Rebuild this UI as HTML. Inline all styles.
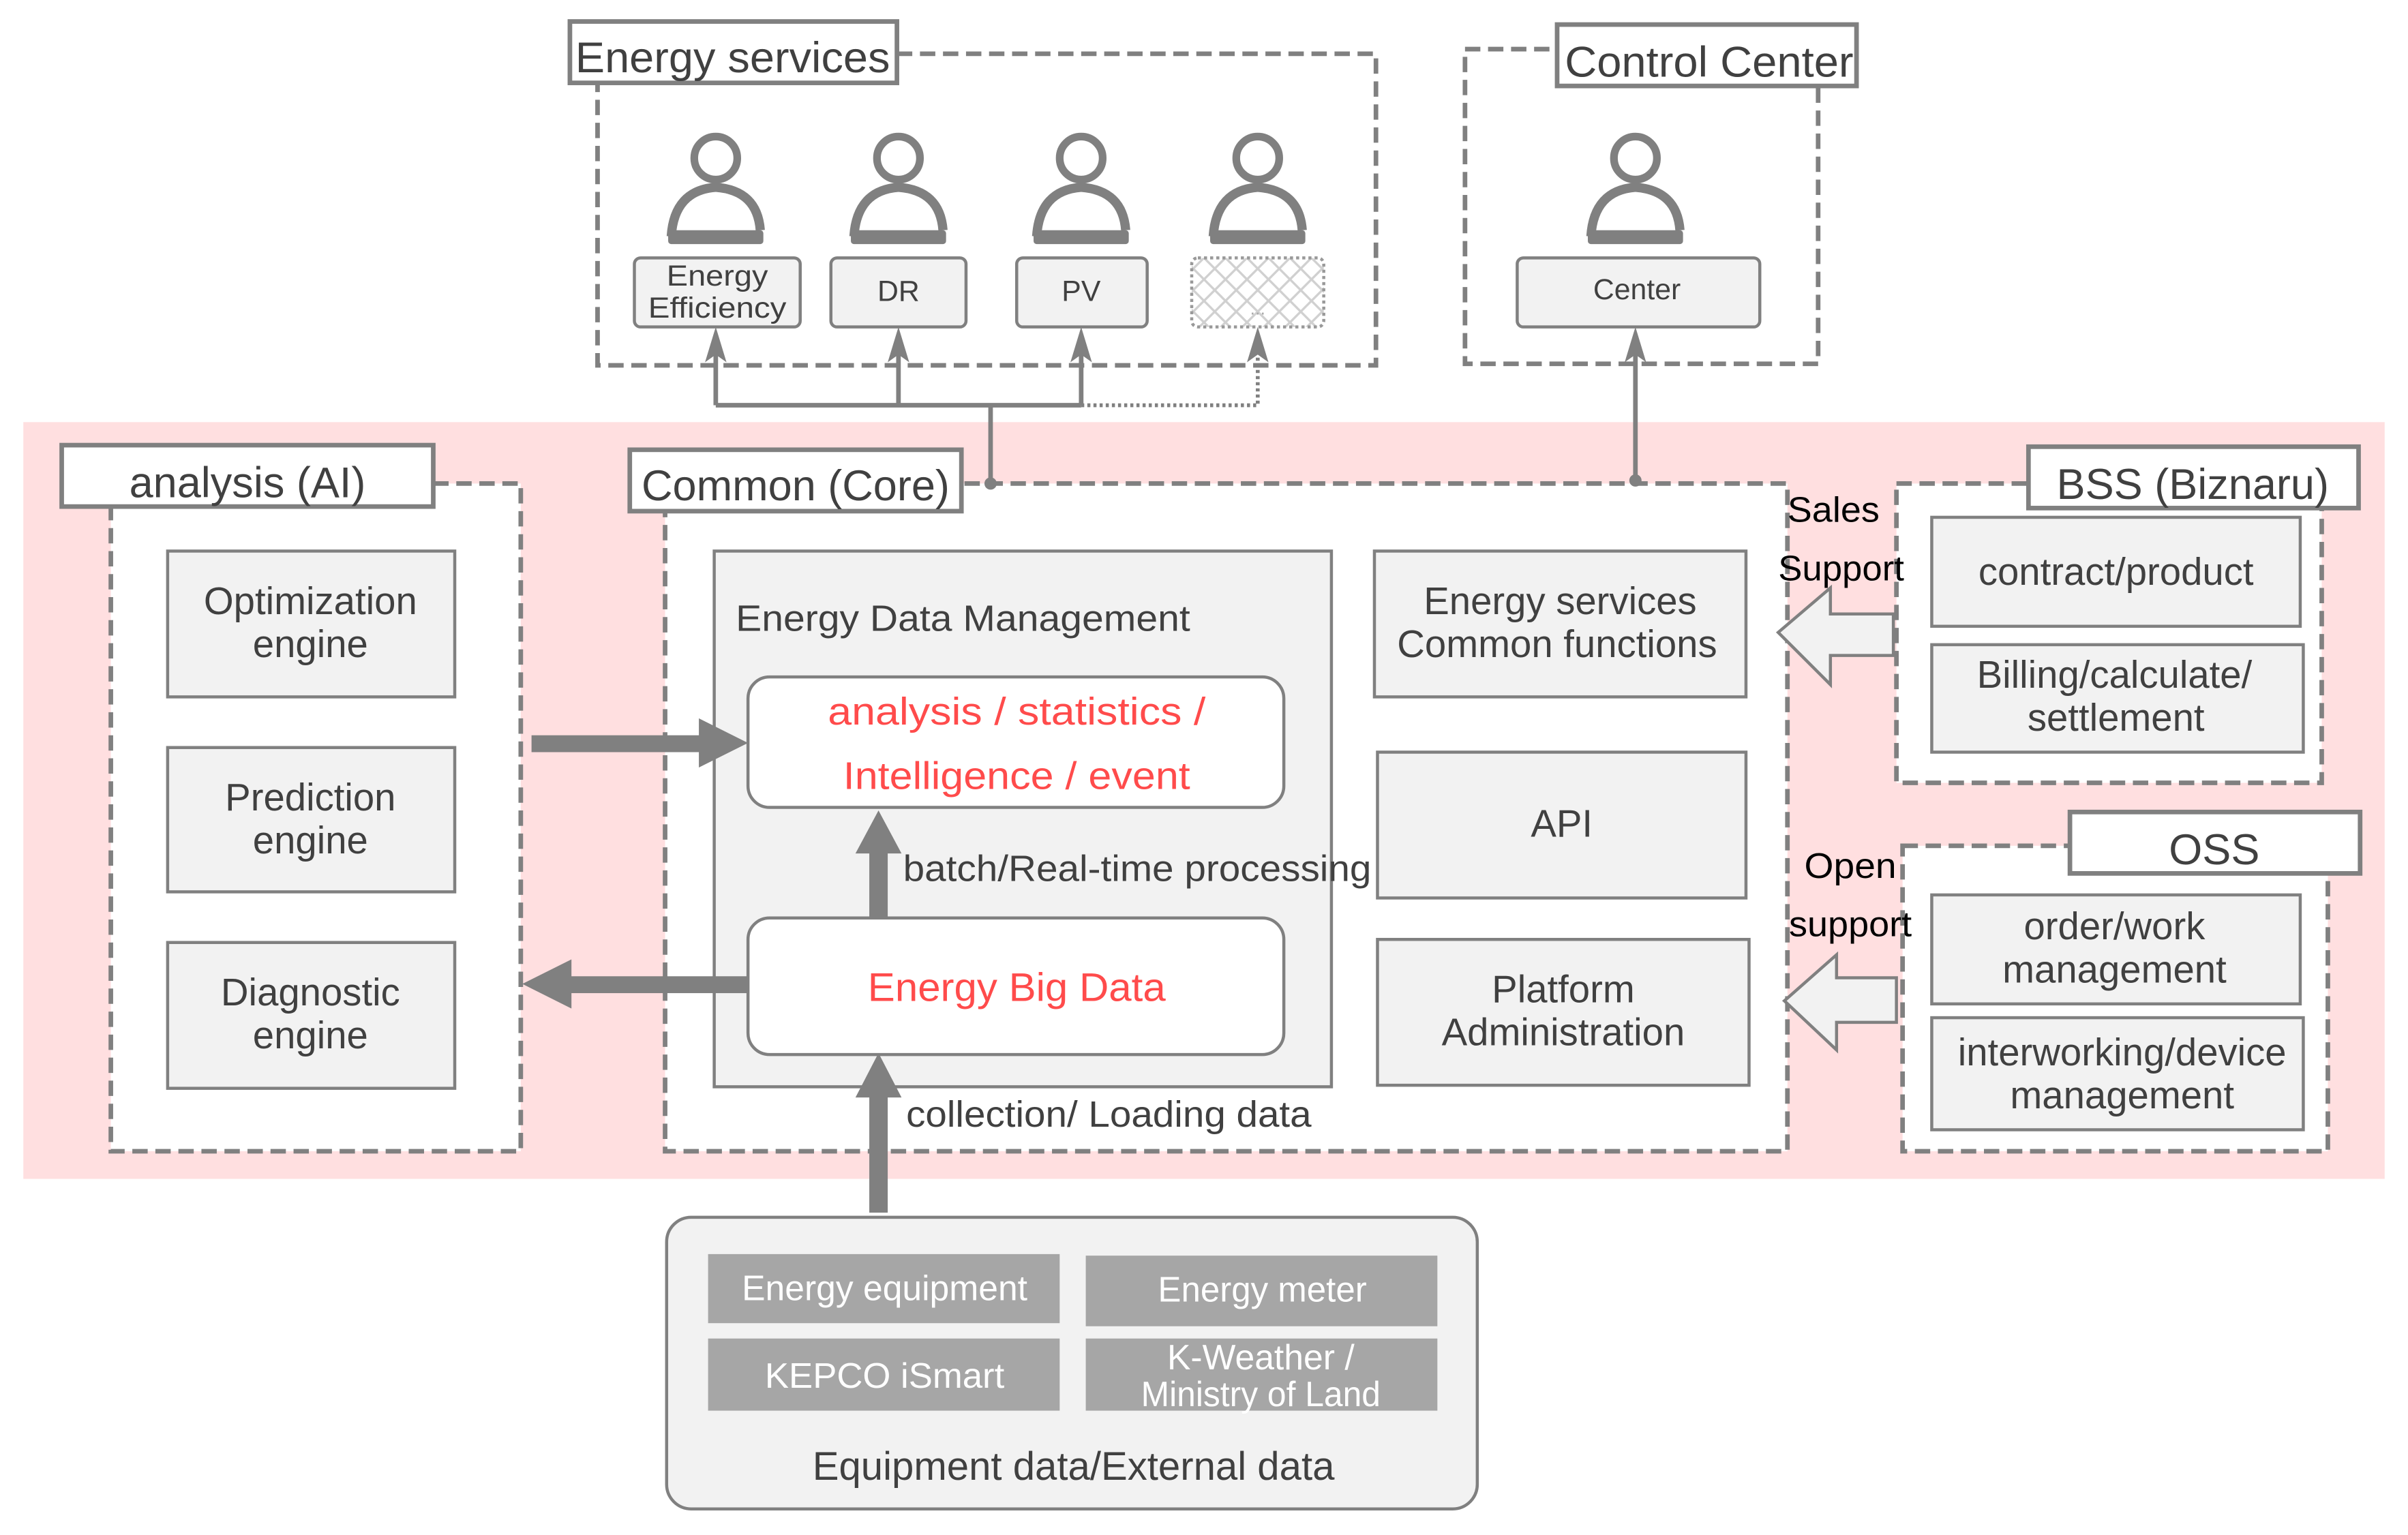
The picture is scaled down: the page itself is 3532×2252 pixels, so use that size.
<!DOCTYPE html>
<html><head><meta charset="utf-8"><style>
html,body{margin:0;padding:0;background:#fff;}
svg{display:block;}
text{font-family:"Liberation Sans",sans-serif;}
</style></head><body>
<svg width="3532" height="2252" viewBox="0 0 1568 1000" xmlns="http://www.w3.org/2000/svg">
<defs>
<pattern id="hatch" width="14" height="14" patternUnits="userSpaceOnUse">
<path d="M0,0 L14,14 M14,0 L0,14" stroke="#d0d0d0" stroke-width="1.5"/>
</pattern>
<g id="person">
<circle cx="0" cy="103" r="14" fill="none" stroke="#808080" stroke-width="5"/>
<path d="M-29,154 Q-27,124 0,122 Q27,124 29,150" fill="none" stroke="#808080" stroke-width="6"/>
<rect x="-31" y="150" width="62" height="9" rx="2" fill="#808080"/>
</g>
</defs>
<rect width="1568" height="1000" fill="#fff"/>
<rect x="15" y="275" width="1538" height="493" fill="#ffdfe0"/>

<!-- Energy services -->
<rect x="389" y="35" width="507" height="203" fill="#fff" stroke="#808080" stroke-width="3" stroke-dasharray="10,5"/>
<rect x="371" y="14" width="213" height="40" fill="#fff" stroke="#808080" stroke-width="3"/>
<text x="477" y="47" font-size="28" text-anchor="middle" fill="#404040" textLength="205" lengthAdjust="spacingAndGlyphs">Energy services</text>
<use href="#person" x="466"/><use href="#person" x="585"/><use href="#person" x="704"/><use href="#person" x="819"/>
<rect x="413" y="168" width="108" height="45" rx="4" fill="#f2f2f2" stroke="#808080" stroke-width="2"/>
<text x="467" y="186" font-size="19" text-anchor="middle" fill="#404040" textLength="66" lengthAdjust="spacingAndGlyphs">Energy</text>
<text x="467" y="207" font-size="19" text-anchor="middle" fill="#404040" textLength="90" lengthAdjust="spacingAndGlyphs">Efficiency</text>
<rect x="541" y="168" width="88" height="45" rx="4" fill="#f2f2f2" stroke="#808080" stroke-width="2"/>
<text x="585" y="196" font-size="19" text-anchor="middle" fill="#404040">DR</text>
<rect x="662" y="168" width="85" height="45" rx="4" fill="#f2f2f2" stroke="#808080" stroke-width="2"/>
<text x="704" y="196" font-size="19" text-anchor="middle" fill="#404040">PV</text>
<rect x="776" y="168" width="86" height="45" rx="4" fill="url(#hatch)" stroke="#999" stroke-width="2" stroke-dasharray="2,2"/>
<text x="819" y="205" font-size="12" text-anchor="middle" fill="#aaa">...</text>

<!-- Control Center -->
<rect x="954" y="32" width="230" height="205" fill="#fff" stroke="#808080" stroke-width="3" stroke-dasharray="10,5"/>
<rect x="1014" y="16" width="195" height="40" fill="#fff" stroke="#808080" stroke-width="3"/>
<text x="1113" y="50" font-size="28" text-anchor="middle" fill="#404040" textLength="188" lengthAdjust="spacingAndGlyphs">Control Center</text>
<use href="#person" x="1065"/>
<rect x="988" y="168" width="158" height="45" rx="4" fill="#f2f2f2" stroke="#808080" stroke-width="2"/>
<text x="1066" y="195" font-size="19" text-anchor="middle" fill="#404040">Center</text>

<!-- connectors -->
<g stroke="#808080" stroke-width="3" fill="none">
<path d="M466,264 L704,264"/>
<path d="M466,264 L466,222"/><path d="M585,264 L585,222"/><path d="M704,264 L704,222"/>
<path d="M645,264 L645,315"/>
<path d="M1065,222 L1065,313"/>
</g>
<path d="M704,264 L819,264 L819,222" stroke="#808080" stroke-width="2.5" fill="none" stroke-dasharray="2,2"/>
<g fill="#808080">
<path d="M466,213 L459,236 L466,231 L473,236 Z"/>
<path d="M585,213 L578,236 L585,231 L592,236 Z"/>
<path d="M704,213 L697,236 L704,231 L711,236 Z"/>
<path d="M819,213 L812,236 L819,231 L826,236 Z"/>
<path d="M1065,213 L1058,236 L1065,231 L1072,236 Z"/>
</g>

<!-- analysis AI -->
<rect x="72" y="315" width="267" height="435" fill="#fff" stroke="#808080" stroke-width="3" stroke-dasharray="10,5"/>
<rect x="40" y="290" width="242" height="40" fill="#fff" stroke="#808080" stroke-width="3"/>
<text x="161" y="324" font-size="28" text-anchor="middle" fill="#404040">analysis (AI)</text>
<g fill="#f2f2f2" stroke="#808080" stroke-width="2">
<rect x="109" y="359" width="187" height="95"/>
<rect x="109" y="487" width="187" height="94"/>
<rect x="109" y="614" width="187" height="95"/>
</g>
<g font-size="25" text-anchor="middle" fill="#404040">
<text x="202" y="400">Optimization</text><text x="202" y="428">engine</text>
<text x="202" y="528">Prediction</text><text x="202" y="556">engine</text>
<text x="202" y="655">Diagnostic</text><text x="202" y="683">engine</text>
</g>

<!-- Common Core -->
<rect x="433" y="315" width="731" height="435" fill="#fff" stroke="#808080" stroke-width="3" stroke-dasharray="10,5"/>
<rect x="410" y="293" width="216" height="40" fill="#fff" stroke="#808080" stroke-width="3"/>
<text x="518" y="326" font-size="28" text-anchor="middle" fill="#404040">Common (Core)</text>
<g fill="#808080"><circle cx="645" cy="315" r="4"/><circle cx="1065" cy="313" r="4"/></g>
<rect x="465" y="359" width="402" height="349" fill="#f2f2f2" stroke="#808080" stroke-width="2"/>
<text x="479" y="411" font-size="24" fill="#404040" textLength="296" lengthAdjust="spacingAndGlyphs">Energy  Data  Management</text>
<rect x="487" y="441" width="349" height="85" rx="14" fill="#fff" stroke="#808080" stroke-width="2"/>
<text x="662" y="472" font-size="25" text-anchor="middle" fill="#ff4b4b" textLength="246" lengthAdjust="spacingAndGlyphs">analysis  / statistics  /</text>
<text x="662" y="514" font-size="25" text-anchor="middle" fill="#ff4b4b" textLength="226" lengthAdjust="spacingAndGlyphs">Intelligence   / event</text>
<rect x="487" y="598" width="349" height="89" rx="14" fill="#fff" stroke="#808080" stroke-width="2"/>
<text x="662" y="652" font-size="26" text-anchor="middle" fill="#ff4b4b" textLength="194" lengthAdjust="spacingAndGlyphs">Energy  Big  Data</text>
<text x="588" y="574" font-size="24" fill="#404040" textLength="305" lengthAdjust="spacingAndGlyphs">batch/Real-time  processing</text>
<text x="590" y="734" font-size="24" fill="#404040" textLength="264" lengthAdjust="spacingAndGlyphs">collection/  Loading  data</text>

<g fill="#f2f2f2" stroke="#808080" stroke-width="2">
<rect x="895" y="359" width="242" height="95"/>
<rect x="897" y="490" width="240" height="95"/>
<rect x="897" y="612" width="242" height="95"/>
</g>
<g font-size="25" text-anchor="middle" fill="#404040">
<text x="1016" y="400">Energy services</text><text x="1014" y="428">Common functions</text>
<text x="1017" y="545">API</text>
<text x="1018" y="653">Platform</text><text x="1018" y="681">Administration</text>
</g>

<!-- thick arrows -->
<g fill="#808080">
<rect x="346" y="479" width="112" height="11"/>
<path d="M487,484 L455,468 L455,500 Z"/>
<rect x="370" y="636" width="117" height="11"/>
<path d="M340,641 L372,625 L372,657 Z"/>
<rect x="566" y="555" width="12" height="43"/>
<path d="M572,528 L557,556 L587,556 Z"/>
<rect x="566" y="714" width="12" height="76"/>
<path d="M572,686 L557,715 L587,715 Z"/>
</g>

<!-- BSS -->
<rect x="1235" y="315" width="277" height="195" fill="#fff" stroke="#808080" stroke-width="3" stroke-dasharray="10,5"/>
<rect x="1321" y="291" width="215" height="40" fill="#fff" stroke="#808080" stroke-width="3"/>
<text x="1428" y="325" font-size="28" text-anchor="middle" fill="#404040">BSS (Biznaru)</text>
<rect x="1258" y="337" width="240" height="71" fill="#f2f2f2" stroke="#808080" stroke-width="2"/>
<rect x="1258" y="420" width="242" height="70" fill="#f2f2f2" stroke="#808080" stroke-width="2"/>
<g font-size="25" text-anchor="middle" fill="#404040">
<text x="1378" y="381">contract/product</text>
<text x="1377" y="448">Billing/calculate/</text><text x="1378" y="476">settlement</text>
</g>
<!-- OSS -->
<rect x="1239" y="551" width="277" height="199" fill="#fff" stroke="#808080" stroke-width="3" stroke-dasharray="10,5"/>
<rect x="1348" y="529" width="189" height="40" fill="#fff" stroke="#808080" stroke-width="3"/>
<text x="1442" y="563" font-size="28" text-anchor="middle" fill="#404040">OSS</text>
<rect x="1258" y="583" width="240" height="71" fill="#f2f2f2" stroke="#808080" stroke-width="2"/>
<rect x="1258" y="663" width="242" height="73" fill="#f2f2f2" stroke="#808080" stroke-width="2"/>
<g font-size="25" text-anchor="middle" fill="#404040">
<text x="1377" y="612">order/work</text><text x="1377" y="640">management</text>
<text x="1382" y="694">interworking/device</text><text x="1382" y="722">management</text>
</g>

<!-- hollow arrows -->
<path d="M1158,412 L1192,383 L1192,400 L1233,400 L1233,427 L1192,427 L1192,446 Z" fill="#f2f2f2" stroke="#808080" stroke-width="2"/>
<path d="M1162,652 L1196,622 L1196,637 L1235,637 L1235,666 L1196,666 L1196,684 Z" fill="#f2f2f2" stroke="#808080" stroke-width="2"/>
<g font-size="23" fill="#000">
<text x="1164" y="340" textLength="60" lengthAdjust="spacingAndGlyphs">Sales</text>
<text x="1158" y="378" textLength="82" lengthAdjust="spacingAndGlyphs">Support</text>
<text x="1175" y="572" textLength="60" lengthAdjust="spacingAndGlyphs">Open</text>
<text x="1165" y="610" textLength="80" lengthAdjust="spacingAndGlyphs">support</text>
</g>

<!-- bottom -->
<rect x="434" y="793" width="528" height="190" rx="16" fill="#f2f2f2" stroke="#808080" stroke-width="2"/>
<g fill="#a6a6a6">
<rect x="461" y="817" width="229" height="45"/>
<rect x="707" y="818" width="229" height="46"/>
<rect x="461" y="872" width="229" height="47"/>
<rect x="707" y="872" width="229" height="47"/>
</g>
<g font-size="23" text-anchor="middle" fill="#fff">
<text x="576" y="847" textLength="186" lengthAdjust="spacingAndGlyphs">Energy  equipment</text>
<text x="822" y="848" textLength="136" lengthAdjust="spacingAndGlyphs">Energy  meter</text>
<text x="576" y="904" textLength="156" lengthAdjust="spacingAndGlyphs">KEPCO  iSmart</text>
<text x="821" y="892" textLength="122" lengthAdjust="spacingAndGlyphs">K-Weather  /</text>
<text x="821" y="916" textLength="156" lengthAdjust="spacingAndGlyphs">Ministry of Land</text>
</g>
<text x="699" y="964" font-size="26" text-anchor="middle" fill="#404040" textLength="340" lengthAdjust="spacingAndGlyphs">Equipment  data/External  data</text>
</svg>
</body></html>
